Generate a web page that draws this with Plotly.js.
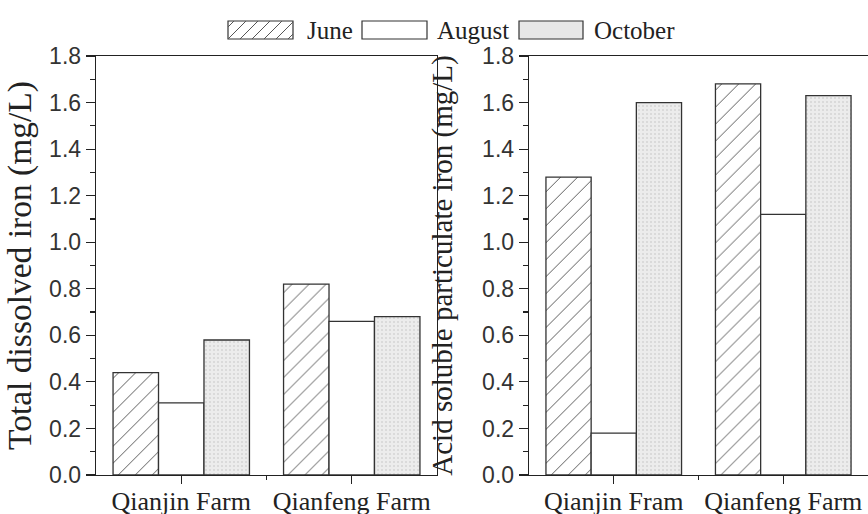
<!DOCTYPE html>
<html>
<head>
<meta charset="utf-8">
<script src="https://cdn.plot.ly/plotly-3.0.1.min.js"></script>
<style>html,body{margin:0;padding:0;background:#fff;}#chart{width:868px;height:514px;}</style>
</head>
<body>
<div id="chart"></div>
<script>
// ---- data ----
const months = ['June', 'August', 'October'];
const sitesLeft = ['Qianjin Farm', 'Qianfeng Farm'];
const sitesRight = ['Qianjin Fram', 'Qianfeng Farm'];
const dissolvedJune = [0.44, 0.82];
const dissolvedAugust = [0.31, 0.66];
const dissolvedOctober = [0.58, 0.68];
const particulateJune = [1.28, 1.68];
const particulateAugust = [0.18, 1.12];
const particulateOctober = [1.60, 1.63];
const yTicks = [0, 0.2, 0.4, 0.6, 0.8, 1.0, 1.2, 1.4, 1.6, 1.8];

// ---- styles ----
const W = 868, H = 514, M = {l: 0, r: 0, t: 56, b: 39};
const plotH = H - M.t - M.b;
const px = x => x / W;
const py = y => (H - M.b - y) / plotH;
const serif = 'Liberation Serif, Times New Roman, serif';
const sans = 'Liberation Sans, Arial, sans-serif';
const ink = '#222';

const markers = {
  June: {color: 'white', line: {color: '#333', width: 1.3},
         pattern: {shape: '/', size: 12, solidity: 0.08, fgcolor: '#555', bgcolor: 'white'}},
  August: {color: 'white', line: {color: '#333', width: 1.3}},
  October: {color: '#e9e9e9', line: {color: '#333', width: 1.3},
            pattern: {shape: '.', size: 4, solidity: 0.2, fgcolor: '#d4d4d4', bgcolor: '#ececec'}}
};

const idx = sitesLeft.map((s, i) => i);
const leftSeries = [dissolvedJune, dissolvedAugust, dissolvedOctober];
const rightSeries = [particulateJune, particulateAugust, particulateOctober];

const traces = [];
months.forEach((m, k) => {
  traces.push({type: 'bar', name: m, x: idx, y: leftSeries[k], xaxis: 'x', yaxis: 'y',
    marker: markers[m], showlegend: false, offsetgroup: m, hoverinfo: 'skip'});
});
months.forEach((m, k) => {
  traces.push({type: 'bar', name: m, x: idx, y: rightSeries[k], xaxis: 'x2', yaxis: 'y2',
    marker: markers[m], showlegend: false, offsetgroup: m, hoverinfo: 'skip'});
});

function xAxis(domain, labels, anchor) {
  return {domain: domain, anchor: anchor, range: [-0.5, 1.5], tickmode: 'array',
    tickvals: idx, ticktext: labels, ticks: 'outside', ticklen: 8, tickwidth: 1.2, tickcolor: ink,
    minor: {tickmode: 'array', tickvals: [0.5], ticks: 'outside', ticklen: 4, tickwidth: 1.2, tickcolor: ink},
    showline: true, mirror: true, linecolor: ink, linewidth: 1.3, showgrid: false, zeroline: false,
    tickfont: {family: serif, size: 26, color: ink}, ticklabelstandoff: -6, automargin: false, fixedrange: true};
}
function yAxis(anchor, title, tsize, standoff) {
  return {domain: [0, 1], anchor: anchor, range: [0, 1.8], tickmode: 'array', tickvals: yTicks,
    ticktext: yTicks.map(v => v.toFixed(1)), ticks: 'outside', ticklen: 9, tickwidth: 1.2, tickcolor: ink,
    minor: {dtick: 0.1, ticks: 'outside', ticklen: 5, tickwidth: 1.2, tickcolor: ink},
    showline: true, mirror: true, linecolor: ink, linewidth: 1.3, showgrid: false, zeroline: false,
    tickfont: {family: sans, size: 23, color: '#333'}, automargin: false,
    title: {text: title, font: {family: serif, size: tsize, color: ink}, standoff: standoff}, fixedrange: true};
}

// legend drawn as shapes + text
const legendBoxes = [
  {name: 'June', x0: 228, x1: 293, tx: 305},
  {name: 'August', x0: 362, x1: 427, tx: 435},
  {name: 'October', x0: 519, x1: 583, tx: 592}
];
const ly0 = 21, ly1 = 39;
const shapes = [], annotations = [];
legendBoxes.forEach(b => {
  shapes.push({type: 'rect', xref: 'paper', yref: 'paper', x0: px(b.x0), x1: px(b.x1), y0: py(ly1), y1: py(ly0),
    line: {color: '#333', width: 1.2}, fillcolor: b.name === 'October' ? '#e8e8e8' : 'white', layer: 'above'});
  annotations.push({xref: 'paper', yref: 'paper', x: px(b.tx), y: py((ly0 + ly1) / 2), xanchor: 'left', yanchor: 'middle',
    text: b.name, showarrow: false, font: {family: serif, size: 25, color: ink}});
  if (b.name === 'June') {
    const h = ly1 - ly0;
    for (let s = -h + 6; s < (b.x1 - b.x0); s += 12) {
      let xa = b.x0 + s, ya = ly1, xb = b.x0 + s + h, yb = ly0;
      if (xa < b.x0) { ya -= (b.x0 - xa); xa = b.x0; }
      if (xb > b.x1) { yb += (xb - b.x1); xb = b.x1; }
      shapes.push({type: 'line', xref: 'paper', yref: 'paper', x0: px(xa), y0: py(ya), x1: px(xb), y1: py(yb),
        line: {color: '#555', width: 1}, layer: 'above'});
    }
  }
});

const layout = {
  width: W, height: H, margin: M, paper_bgcolor: 'white', plot_bgcolor: 'white',
  barmode: 'group', bargap: 0.2, bargroupgap: 0, showlegend: false,
  xaxis: xAxis([px(96), px(437)], sitesLeft, 'y'),
  yaxis: yAxis('x', 'Total dissolved iron (mg/L)', 33.5, 7),
  xaxis2: xAxis([px(529), 1], sitesRight, 'y2'),
  yaxis2: yAxis('x2', 'Acid soluble particulate iron (mg/L)', 29, 21),
  shapes: shapes, annotations: annotations
};

Plotly.newPlot('chart', traces, layout, {displayModeBar: false, staticPlot: true});
</script>
</body>
</html>
